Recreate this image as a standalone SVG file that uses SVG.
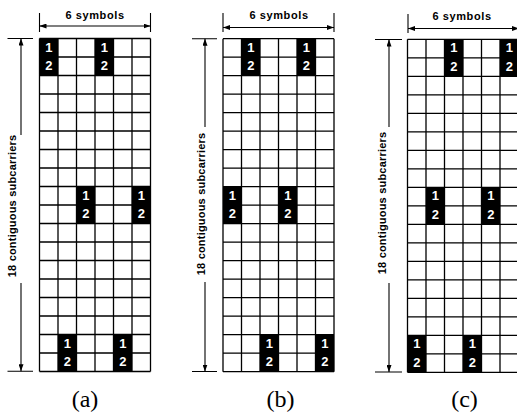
<svg xmlns="http://www.w3.org/2000/svg" xmlns:xlink="http://www.w3.org/1999/xlink" width="517" height="415" viewBox="0 0 517 415">
<style>
.grid{fill:none;stroke:#000;stroke-width:1.3}
.blk{fill:#000}
.num{font-family:"Liberation Sans",Arial,sans-serif;font-weight:bold;font-size:13px;fill:#fff;text-anchor:middle}
.dim{fill:none;stroke:#000;stroke-width:1.1}
.tick{fill:none;stroke:#000;stroke-width:1.1}
.lab{font-family:"Liberation Sans",Arial,sans-serif;font-weight:bold;font-size:11px;fill:#000;text-anchor:middle}
.sym{letter-spacing:0.6px}
.sub{letter-spacing:0.2px}
.cap{font-family:"Liberation Serif","Times New Roman",serif;font-size:24px;fill:#000;text-anchor:middle}
</style>
<defs>
<marker id="ah" markerWidth="7" markerHeight="5" refX="7" refY="2.5" orient="auto-start-reverse" markerUnits="userSpaceOnUse">
<path d="M0,0 L7,2.5 L0,5 z" fill="#000"/>
</marker>
<g id="grid">
<rect x="0" y="0" width="111" height="333" fill="#fff"/>
<path class="grid" d="M0 0V333M18.5 0V333M37 0V333M55.5 0V333M74 0V333M92.5 0V333M111 0V333M0 0H111M0 18.5H111M0 37H111M0 55.5H111M0 74H111M0 92.5H111M0 111H111M0 129.5H111M0 148H111M0 166.5H111M0 185H111M0 203.5H111M0 222H111M0 240.5H111M0 259H111M0 277.5H111M0 296H111M0 314.5H111M0 333H111"/>
</g>
<g id="pilot">
<rect class="blk" x="0" y="0" width="18.5" height="37"/>
<text class="num" x="9.25" y="13.2">1</text>
<text class="num" x="9.25" y="31.6">2</text>
</g>
</defs>

<g id="panel-a" transform="translate(39.5,38.5)">
<use xlink:href="#grid"/>
<use xlink:href="#pilot" x="0" y="0"/>
<use xlink:href="#pilot" x="55.5" y="0"/>
<use xlink:href="#pilot" x="37" y="148"/>
<use xlink:href="#pilot" x="92.5" y="148"/>
<use xlink:href="#pilot" x="18.5" y="296"/>
<use xlink:href="#pilot" x="74" y="296"/>
</g>

<g id="panel-b" transform="translate(223,38.7)">
<use xlink:href="#grid"/>
<use xlink:href="#pilot" x="18.5" y="0"/>
<use xlink:href="#pilot" x="74" y="0"/>
<use xlink:href="#pilot" x="0" y="148"/>
<use xlink:href="#pilot" x="55.5" y="148"/>
<use xlink:href="#pilot" x="37" y="296"/>
<use xlink:href="#pilot" x="92.5" y="296"/>
</g>

<g id="panel-c" transform="translate(407.5,39.3)">
<use xlink:href="#grid"/>
<use xlink:href="#pilot" x="37" y="0"/>
<use xlink:href="#pilot" x="92.5" y="0"/>
<use xlink:href="#pilot" x="18.5" y="148"/>
<use xlink:href="#pilot" x="74" y="148"/>
<use xlink:href="#pilot" x="0" y="296"/>
<use xlink:href="#pilot" x="55.5" y="296"/>
</g>

<g id="connectors">
<!-- panel a dimensions -->
<path class="tick" d="M39.5 13V32M150.5 13V32"/>
<line class="dim" x1="39.5" y1="26" x2="150.5" y2="26" marker-start="url(#ah)" marker-end="url(#ah)"/>
<path class="tick" d="M7.5 38.5H33M7.5 371.2H33"/>
<line class="dim" x1="21" y1="38.5" x2="21" y2="135" marker-start="url(#ah)"/>
<line class="dim" x1="21" y1="283" x2="21" y2="371.2" marker-end="url(#ah)"/>
<!-- panel b dimensions -->
<path class="tick" d="M223 13V32M334 13V32"/>
<line class="dim" x1="223" y1="27.5" x2="334" y2="27.5" marker-start="url(#ah)" marker-end="url(#ah)"/>
<path class="tick" d="M192 38.7H217M192 371.5H217"/>
<line class="dim" x1="205" y1="38.7" x2="205" y2="127" marker-start="url(#ah)"/>
<line class="dim" x1="205" y1="282" x2="205" y2="371.5" marker-end="url(#ah)"/>
<!-- panel c dimensions -->
<path class="tick" d="M408 14V33"/>
<line class="dim" x1="408" y1="28.5" x2="519" y2="28.5" marker-start="url(#ah)" marker-end="url(#ah)"/>
<path class="tick" d="M375 39.5H402M375 372H402"/>
<line class="dim" x1="389" y1="39.5" x2="389" y2="127" marker-start="url(#ah)"/>
<line class="dim" x1="389" y1="283" x2="389" y2="372" marker-end="url(#ah)"/>
</g>

<g id="labels">
<text class="lab sym" x="95" y="18.5">6 symbols</text>
<text class="lab sym" x="279" y="19">6 symbols</text>
<text class="lab sym" x="462" y="19.5">6 symbols</text>
<text class="lab sub" transform="translate(15.5,206) rotate(-90)">18 contiguous subcarriers</text>
<text class="lab sub" transform="translate(204.5,204) rotate(-90)">18 contiguous subcarriers</text>
<text class="lab sub" transform="translate(385.5,203) rotate(-90)">18 contiguous subcarriers</text>
<text class="cap" x="85" y="406.5">(a)</text>
<text class="cap" x="280.5" y="406.5">(b)</text>
<text class="cap" x="464.5" y="406.5">(c)</text>
</g>
</svg>
